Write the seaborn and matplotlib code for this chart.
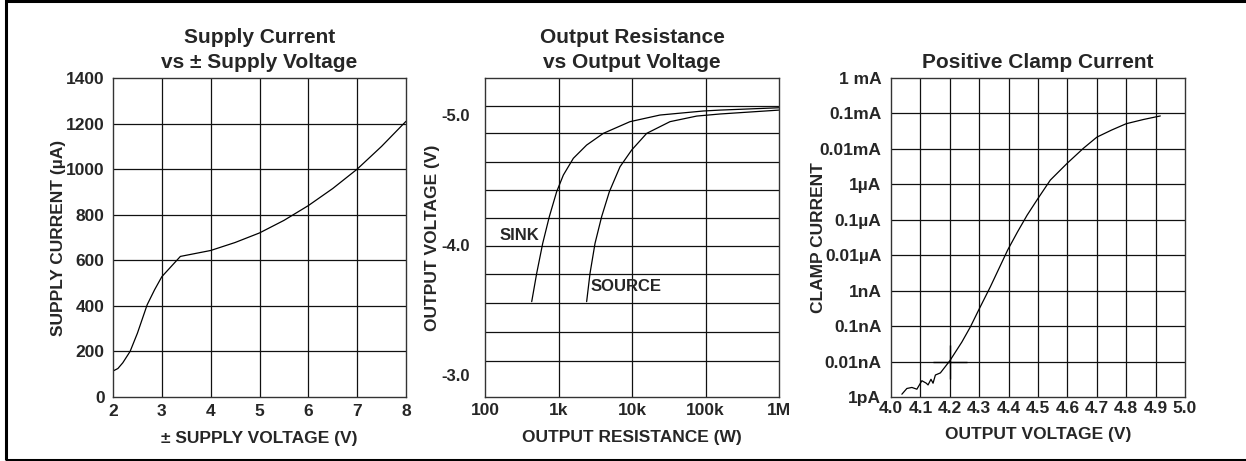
import numpy as np
import pandas as pd
import seaborn as sns
import matplotlib.pyplot as plt
from matplotlib.patches import Rectangle

# data
supply_v = [2.0, 2.1, 2.2, 2.35, 2.5, 2.7, 2.85, 3.0, 3.38, 4.0, 4.5, 5.0, 5.5, 6.0, 6.5, 7.0, 7.5, 8.0]
supply_i = [114, 125, 150, 200, 280, 405, 470, 528, 617, 643, 678, 720, 775, 840, 915, 1000, 1100, 1210]

sink_r = [432, 505, 610, 750, 944, 1164, 1592, 2415, 4074, 9397, 24040, 93330, 157400, 1000000]
sink_v = [-3.564, -3.782, -4.013, -4.218, -4.41, -4.538, -4.667, -4.769, -4.859, -4.949,
          -5.0, -5.031, -5.038, -5.056]
source_r = [2415, 2685, 3141, 3864, 4920, 6871, 9908, 15850, 32890, 75860, 157400, 1000000]
source_v = [-3.564, -3.782, -4.013, -4.218, -4.41, -4.602, -4.731, -4.859, -4.949, -4.992,
            -5.008, -5.038]
res_grid = [-5.07, -4.86, -4.64, -4.42, -4.21, -3.99, -3.78, -3.55, -3.33, -3.11]
res_ticks = [-5.0, -4.0, -3.0]
res_xticks = [100, 1000, 10000, 100000, 1000000]
res_xlabels = ["100", "1k", "10k", "100k", "1M"]

clamp_v = [4.037, 4.054, 4.071, 4.088, 4.105, 4.12, 4.126, 4.136, 4.143, 4.151, 4.168, 4.2,
           4.241, 4.27, 4.298, 4.338, 4.397, 4.43, 4.463, 4.50, 4.542, 4.6, 4.655, 4.70,
           4.75, 4.80, 4.859, 4.916]
clamp_i = [1.2e-12, 1.74e-12, 1.86e-12, 1.66e-12, 2.88e-12, 2.45e-12, 2.19e-12, 3.16e-12,
           2.45e-12, 4.17e-12, 4.79e-12, 1.05e-11, 3.55e-11, 9.5e-11, 2.82e-10, 1.29e-9,
           1.41e-8, 4.5e-8, 1.35e-7, 4.0e-7, 1.32e-6, 3.98e-6, 1.05e-5, 2.14e-5, 3.39e-5,
           5.13e-5, 6.76e-5, 8.5e-5]
clamp_yticks = [1e-12, 1e-11, 1e-10, 1e-9, 1e-8, 1e-7, 1e-6, 1e-5, 1e-4, 1e-3]
clamp_ylabels = ["1pA", "0.01nA", "0.1nA", "1nA", "0.01µA", "0.1µA", "1µA", "0.01mA", "0.1mA", "1 mA"]
clamp_xticks = [4.0, 4.1, 4.2, 4.3, 4.4, 4.5, 4.6, 4.7, 4.8, 4.9, 5.0]

sns.set_style("white")
plt.rcParams["font.family"] = ["Liberation Sans", "DejaVu Sans"]
plt.rcParams["font.weight"] = "bold"

W, H = 1246, 461
fig = plt.figure(figsize=(W / 100, H / 100), dpi=100)

def box(l, r, t, b):
    return [l / W, 1 - b / H, (r - l) / W, (b - t) / H]

gcol = "#111111"
tick_fs = 12.5
lab_fs = 12.5
tit_fs = 15

def style(ax):
    for s in ax.spines.values():
        s.set_color("#333333")
        s.set_linewidth(1.0)
    ax.tick_params(length=0, labelsize=tick_fs)
    for t in ax.get_xticklabels() + ax.get_yticklabels():
        t.set_fontweight("bold")

# panel 1
ax1 = fig.add_axes(box(113, 406, 78, 397))
df1 = pd.DataFrame({"v": supply_v, "i": supply_i})
sns.lineplot(data=df1, x="v", y="i", ax=ax1, color="black", lw=0.9, sort=False)
ax1.set_xlim(2, 8)
ax1.set_ylim(0, 1400)
ax1.set_xticks(range(2, 9))
ax1.set_yticks(range(0, 1401, 200))
for x in range(3, 8):
    ax1.axvline(x, color=gcol, lw=0.9, zorder=0)
for y in range(200, 1400, 200):
    ax1.axhline(y, color=gcol, lw=0.9, zorder=0)
ax1.tick_params(axis="x", pad=5)
ax1.tick_params(axis="y", pad=6)
ax1.set_xlabel("± SUPPLY VOLTAGE (V)", fontsize=lab_fs, fontweight="bold", labelpad=9)
ax1.set_ylabel("SUPPLY CURRENT (µA)", fontsize=lab_fs, fontweight="bold", labelpad=0)
ax1.set_title("Supply Current\nvs ± Supply Voltage", fontsize=tit_fs, fontweight="bold",
              pad=7, linespacing=1.45)
style(ax1)

# panel 2
ax2 = fig.add_axes(box(485, 779, 78, 397))
df_sink = pd.DataFrame({"r": sink_r, "v": sink_v})
df_src = pd.DataFrame({"r": source_r, "v": source_v})
sns.lineplot(data=df_sink, x="r", y="v", ax=ax2, color="black", lw=0.9, sort=False)
sns.lineplot(data=df_src, x="r", y="v", ax=ax2, color="black", lw=0.9, sort=False)
ax2.set_xscale("log")
ax2.set_xlim(100, 1e6)
ax2.set_ylim(-2.83, -5.285)
ax2.set_xticks(res_xticks)
ax2.set_xticklabels(res_xlabels)
ax2.minorticks_off()
ax2.set_yticks(res_ticks)
ax2.set_yticklabels(["%.1f" % v for v in res_ticks])
for x in res_xticks[1:-1]:
    ax2.axvline(x, color=gcol, lw=0.9, zorder=0)
for y in res_grid:
    ax2.axhline(y, color=gcol, lw=0.9, zorder=0)
ax2.text(160, -4.07, "SINK", fontsize=12, fontweight="bold", va="center", ha="left")
ax2.text(2690, -3.68, "SOURCE", fontsize=12, fontweight="bold", va="center", ha="left")
ax2.tick_params(axis="x", pad=4)
ax2.tick_params(axis="y", pad=11)
ax2.set_xlabel("OUTPUT RESISTANCE (W)", fontsize=lab_fs, fontweight="bold", labelpad=9)
ax2.set_ylabel("OUTPUT VOLTAGE (V)", fontsize=lab_fs, fontweight="bold", labelpad=1)
ax2.set_title("Output Resistance\nvs Output Voltage", fontsize=tit_fs, fontweight="bold",
              pad=7, linespacing=1.45)
style(ax2)
for t in ax2.get_yticklabels():
    t.set_fontsize(12)

# panel 3
ax3 = fig.add_axes(box(891, 1185, 78, 397))
df3 = pd.DataFrame({"v": clamp_v, "i": clamp_i})
sns.lineplot(data=df3, x="v", y="i", ax=ax3, color="black", lw=0.9, sort=False)
ax3.plot([4.2], [1e-11], marker="+", ms=24, mew=1.0, color="black")
ax3.set_yscale("log")
ax3.set_xlim(4.0, 5.0)
ax3.set_ylim(1e-12, 1e-3)
ax3.set_xticks(clamp_xticks)
ax3.set_xticklabels(["%.1f" % v for v in clamp_xticks])
ax3.set_yticks(clamp_yticks)
ax3.set_yticklabels(clamp_ylabels)
ax3.minorticks_off()
for x in clamp_xticks[1:-1]:
    ax3.axvline(x, color=gcol, lw=0.9, zorder=0)
for y in clamp_yticks[1:-1]:
    ax3.axhline(y, color=gcol, lw=0.9, zorder=0)
ax3.tick_params(axis="x", pad=3)
ax3.tick_params(axis="y", pad=7)
ax3.set_xlabel("OUTPUT VOLTAGE (V)", fontsize=lab_fs, fontweight="bold", labelpad=8)
ax3.set_ylabel("CLAMP CURRENT", fontsize=lab_fs, fontweight="bold", labelpad=-5)
ax3.set_title("Positive Clamp Current", fontsize=tit_fs, fontweight="bold", pad=7)
style(ax3)

# outer frame
fig.add_artist(Rectangle((6 / W, 1.5 / H), 1.2, 458 / H, transform=fig.transFigure,
                         fill=False, edgecolor="black", lw=2.2))

fig.savefig("out.png", dpi=100)
